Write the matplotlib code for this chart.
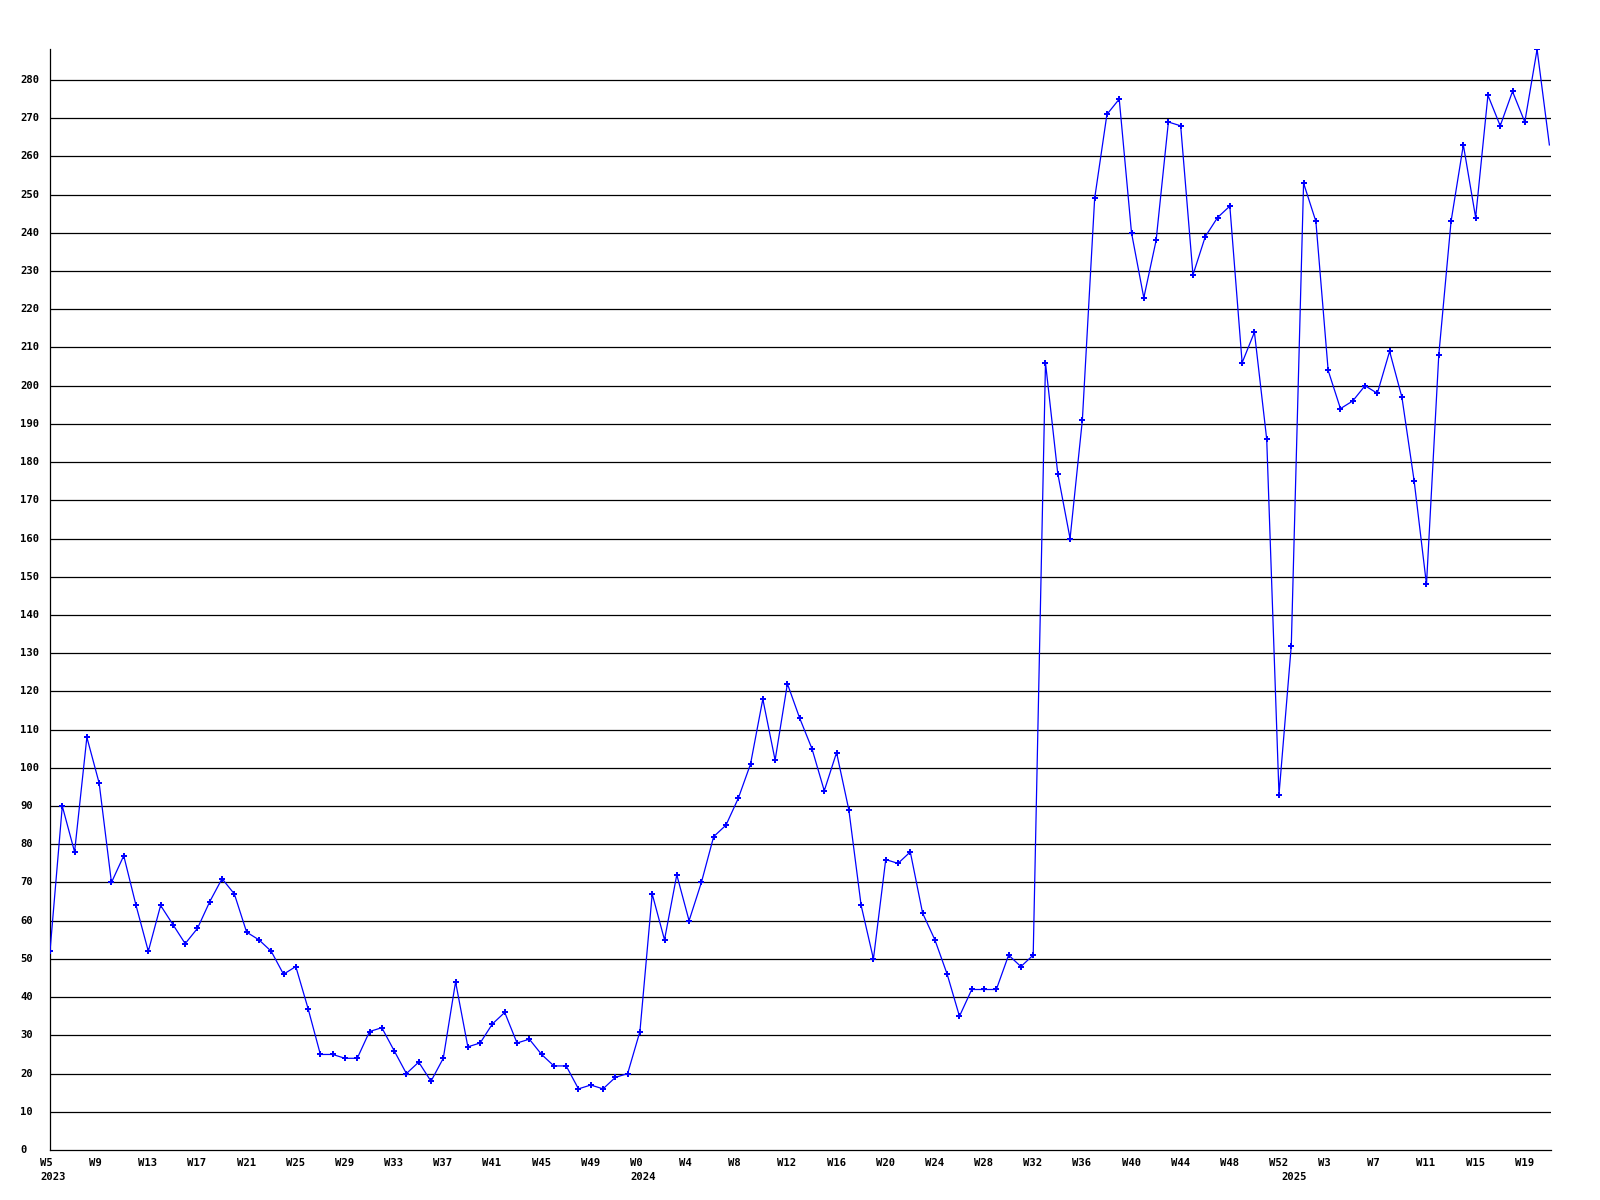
import matplotlib
matplotlib.use("Agg")
import matplotlib.pyplot as plt
import matplotlib.transforms as mtransforms

# ---- data ----
values_2023 = [52, 90, 78, 108, 96, 70, 77, 64, 52, 64, 59, 54, 58, 65, 71, 67,
               57, 55, 52, 46, 48, 37, 25, 25, 24, 24, 31, 32, 26, 20, 23, 18,
               24, 44, 27, 28, 33, 36, 28, 29, 25, 22, 22, 16, 17, 16, 19, 20]
values_2024 = [31, 67, 55, 72, 60, 70, 82, 85, 92, 101, 118, 102, 122, 113, 105,
               94, 104, 89, 64, 50, 76, 75, 78, 62, 55, 46, 35, 42, 42, 42, 51,
               48, 51, 206, 177, 160, 191, 249, 271, 275, 240, 223, 238, 269,
               268, 229, 239, 244, 247, 206, 214, 186, 93]
values_2025 = [132, 253, 243, 204, 194, 196, 200, 198, 209, 197, 175, 148, 208,
               243, 263, 244, 276, 268, 277, 269, 288, 263]

weeks_2023 = list(range(5, 53))
weeks_2024 = list(range(0, 53))
weeks_2025 = list(range(0, 22))
years = ["2023", "2024", "2025"]

y_ticks = list(range(0, 290, 10))

# ---- assemble ----
values = values_2023 + values_2024 + values_2025
weeks = weeks_2023 + weeks_2024 + weeks_2025
x = list(range(len(values)))
year_starts = [0, len(weeks_2023), len(weeks_2023) + len(weeks_2024)]

W, H = 1600, 1200
fig = plt.figure(figsize=(16, 12), dpi=100)
left, right, bottom, top = 50, 1551, 1150, 49.4
ax = fig.add_axes([left / W, 1 - bottom / H, (right - left) / W, (bottom - top) / H])

ax.set_xlim(0, (right - left) / 12.29)
ax.set_ylim(0, 288)

for v in y_ticks[1:]:
    ax.axhline(v, color="black", lw=0.9, zorder=1)

ax.plot(x, values, color="#0000ff", lw=0.9, marker="P", markersize=4,
        markeredgewidth=0, markevery=slice(0, len(values) - 1),
        zorder=3, clip_on=True)

for s in ["top", "right"]:
    ax.spines[s].set_visible(False)
for s in ["left", "bottom"]:
    ax.spines[s].set_color("black")
    ax.spines[s].set_linewidth(0.9)
ax.set_xticks([])
ax.set_yticks([])

font = dict(family="DejaVu Sans Mono", fontweight="bold", fontsize=7.6, color="black")

# y labels: left aligned at x=20px
ytrans = mtransforms.blended_transform_factory(fig.transFigure, ax.transData)
for v in y_ticks:
    ax.text(20 / W, v, str(v), transform=ytrans, ha="left", va="center",
            clip_on=False, **font)

# x labels every 4 weeks, left-aligned 10px before the point
xbase = mtransforms.blended_transform_factory(ax.transData, ax.transAxes)
xlab = mtransforms.offset_copy(xbase, fig=fig, x=-10, y=-13, units="dots")
ylab = mtransforms.offset_copy(xbase, fig=fig, x=-10, y=-27, units="dots")
for i in range(0, len(weeks), 4):
    ax.text(i, 0, "W%d" % weeks[i], transform=xlab, ha="left", va="center",
            clip_on=False, **font)
for i, yr in zip(year_starts, years):
    ax.text(i, 0, yr, transform=ylab, ha="left", va="center",
            clip_on=False, **font)

fig.savefig("out.png", dpi=100, facecolor="white")
